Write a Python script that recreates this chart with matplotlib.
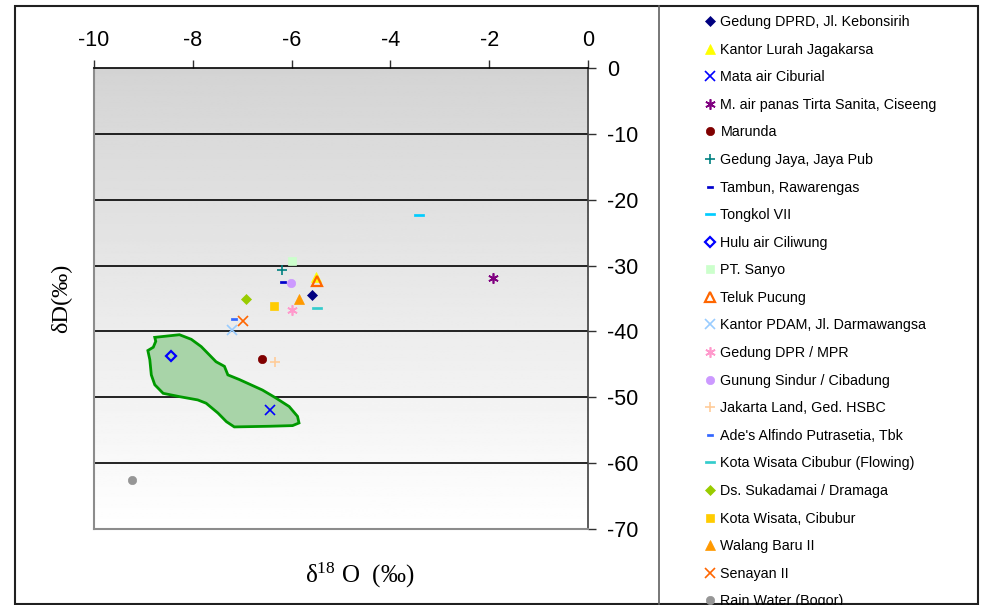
import numpy as np
import matplotlib
matplotlib.use("Agg")
import matplotlib.pyplot as plt
from matplotlib.path import Path
from matplotlib.patches import Polygon, Rectangle
from matplotlib.lines import Line2D

plt.rcParams['font.family'] = ['Liberation Sans', 'DejaVu Sans']
plt.rcParams['axes.unicode_minus'] = False
plt.rcParams['mathtext.fontset'] = 'custom'
plt.rcParams['mathtext.rm'] = 'Liberation Serif'
plt.rcParams['mathtext.it'] = 'Liberation Serif:italic'

# ---- sample data: delta-18O and delta-D (per mil) ----
sites = [
    "Gedung DPRD, Jl. Kebonsirih", "Kantor Lurah Jagakarsa", "Mata air Ciburial",
    "M. air panas Tirta Sanita, Ciseeng", "Marunda", "Gedung Jaya, Jaya Pub",
    "Tambun, Rawarengas", "Tongkol VII", "Hulu air Ciliwung", "PT. Sanyo",
    "Teluk Pucung", "Kantor PDAM, Jl. Darmawangsa", "Gedung DPR / MPR",
    "Gunung Sindur / Cibadung", "Jakarta Land, Ged. HSBC", "Ade's Alfindo Putrasetia, Tbk",
    "Kota Wisata Cibubur (Flowing)", "Ds. Sukadamai / Dramaga", "Kota Wisata, Cibubur",
    "Walang Baru II", "Senayan II", "Rain Water (Bogor)",
]
d18O = [-5.59, -5.51, -6.43, -1.93, -6.59, -6.20, -6.18, -3.43, -8.45, -5.99, -5.48,
        -7.20, -5.99, -6.01, -6.34, -7.16, -5.48, -6.92, -6.36, -5.85, -6.98, -9.24]
dD = [-34.5, -31.7, -52.0, -31.9, -44.2, -30.6, -32.5, -22.3, -43.7, -29.3, -32.4,
      -39.8, -36.7, -32.7, -44.6, -38.1, -36.4, -35.0, -36.2, -35.1, -38.4, -62.6]

# envelope around the Ciliwung upstream samples
env_x = [-8.77, -8.27, -8.03, -7.83, -7.66, -7.53, -7.36, -7.29, -7.06, -6.59, -6.32,
         -6.05, -5.88, -5.85, -5.98, -6.45, -7.16, -7.32, -7.49, -7.73, -7.90, -8.27,
         -8.60, -8.77, -8.84, -8.87, -8.91, -8.80, -8.75]
env_y = [-40.9, -40.5, -41.2, -42.3, -43.6, -44.6, -45.3, -46.6, -47.3, -48.9, -50.1,
         -51.4, -52.9, -53.9, -54.3, -54.4, -54.5, -53.7, -52.4, -50.9, -50.4, -49.9,
         -49.4, -48.1, -46.6, -44.3, -42.9, -42.4, -41.5]

x_ticks = [-10, -8, -6, -4, -2, 0]
y_ticks = [0, -10, -20, -30, -40, -50, -60, -70]

# marker styles: (marker, colour, face, size)
short_dash = Path([(-1, -0.4), (1, -0.4), (1, 0.4), (-1, 0.4), (-1, -0.4)],
                  [1, 2, 2, 2, 79])
long_dash = Path([(-1, -0.28), (1, -0.28), (1, 0.28), (-1, 0.28), (-1, -0.28)],
                 [1, 2, 2, 2, 79])
asterisk = (6, 2, 0)
styles = [
    ("D", "#000080", "fill", 5.5),
    ("^", "#FFFF00", "fill", 7.0),
    ("x", "#0000FF", "line", 6.5),
    (asterisk, "#800080", "line", 7.5),
    ("o", "#800000", "fill", 6.0),
    ("+", "#008080", "line", 7.5),
    (short_dash, "#0000CC", "fill", 4.5),
    (long_dash, "#00CCFF", "fill", 7.5),
    ("D", "#0000FF", "open", 5.0),
    ("s", "#CCFFCC", "fill", 6.0),
    ("^", "#FF6600", "open", 6.5),
    ("x", "#99CCFF", "line", 6.5),
    (asterisk, "#FF99CC", "line", 7.5),
    ("o", "#CC99FF", "fill", 6.0),
    ("+", "#FFCC99", "line", 7.5),
    (short_dash, "#3366FF", "fill", 4.5),
    (long_dash, "#33CCCC", "fill", 7.5),
    ("D", "#99CC00", "fill", 5.5),
    ("s", "#FFCC00", "fill", 6.0),
    ("^", "#FF9900", "fill", 7.0),
    ("x", "#FF6600", "line", 6.5),
    ("o", "#969696", "fill", 6.0),
]

W, H = 984, 605
fig = plt.figure(figsize=(W / 100, H / 100), dpi=100)
fig.patch.set_facecolor("white")
ax = fig.add_axes([94 / W, 1 - 529 / H, (588 - 94) / W, (529 - 68) / H])

# gradient plot-area fill, grey at top to white at bottom
grad = np.linspace(1.0, 0.83, 256).reshape(-1, 1)
ax.imshow(grad, cmap="gray", vmin=0, vmax=1, extent=(-10, 0, -70, 0),
          aspect="auto", origin="lower", zorder=0)

ax.set_xlim(-10, 0)
ax.set_ylim(-70, 0)
ax.set_xticks(x_ticks)
ax.set_yticks(y_ticks)
ax.xaxis.tick_top()
ax.yaxis.tick_right()
ax.tick_params(axis="x", direction="out", length=6, width=1, color="#303030",
               labelsize=15.5, pad=6)
ax.tick_params(axis="y", direction="out", length=6, width=1, color="#303030",
               labelsize=15.5, pad=8)
for lab in ax.get_yticklabels():
    lab.set_horizontalalignment("left")

for v in y_ticks[1:-1]:
    ax.axhline(v, color="black", lw=1.2, zorder=1)

ax.spines["top"].set_color("black")
ax.spines["top"].set_linewidth(1.2)
ax.spines["right"].set_color("#404040")
ax.spines["right"].set_linewidth(1.2)
ax.spines["left"].set_color("#8c8c8c")
ax.spines["left"].set_linewidth(1.5)
ax.spines["bottom"].set_color("#8c8c8c")
ax.spines["bottom"].set_linewidth(1.5)

ax.add_patch(Polygon(np.column_stack([env_x, env_y]), closed=True,
                     facecolor="#a8d4a8", edgecolor="#009900", lw=2, zorder=2))

handles = []
for name, x, y, (m, c, kind, ms) in zip(sites, d18O, dD, styles):
    if kind == "fill":
        kw = dict(marker=m, markersize=ms, markerfacecolor=c, markeredgecolor=c,
                  markeredgewidth=0.5)
    elif kind == "open":
        kw = dict(marker=m, markersize=ms, markerfacecolor="none", markeredgecolor=c,
                  markeredgewidth=1.6)
    else:
        kw = dict(marker=m, markersize=ms, markeredgecolor=c, markeredgewidth=1.2)
    ax.plot([x], [y], linestyle="none", zorder=3, **kw)
    handles.append(Line2D([], [], linestyle="none", label=name, **kw))

ax.set_xlabel(r"δ$^{18}$ O  (‰)", family="Liberation Serif", fontsize=18)
ax.xaxis.set_label_position("bottom")
ax.xaxis.set_label_coords((360 - 94) / 494, -(561 - 529) / 461)
ax.set_ylabel("δD(‰)", family="Liberation Serif", fontsize=17.5, labelpad=16)

# legend panel
fig.legend(handles=handles, loc="upper left", bbox_to_anchor=(704 / W, 1 - 15 / H),
           frameon=False, fontsize=10.3, handlelength=0.8, handletextpad=0.35,
           labelspacing=0.95, borderpad=0, borderaxespad=0)

# chart-area outline and legend separator
fig.add_artist(Rectangle((15 / W, 1 - 604 / H), (978 - 15) / W, (604 - 6) / H,
                         transform=fig.transFigure, fill=False,
                         edgecolor="#202020", lw=1.5))
fig.add_artist(Line2D([659 / W, 659 / W], [1 - 604 / H, 1 - 6 / H],
                      transform=fig.transFigure, color="#606060", lw=1.2))

fig.savefig("out.png", dpi=100)
